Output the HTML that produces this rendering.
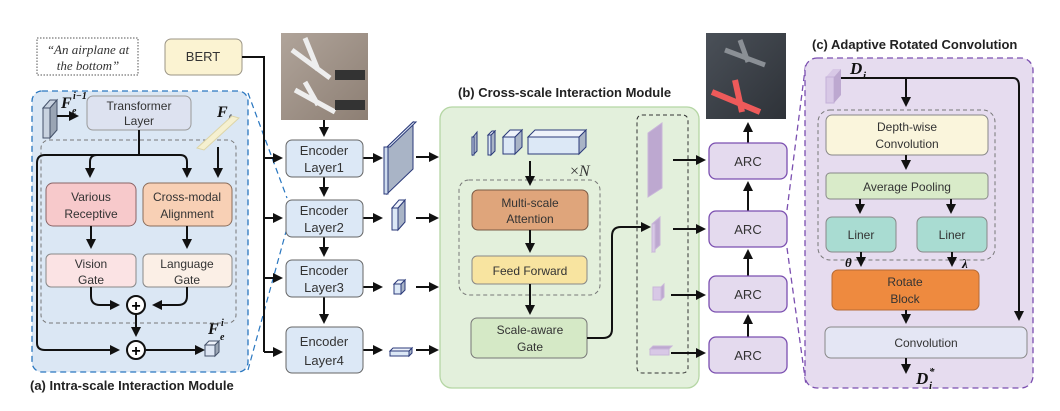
<!DOCTYPE html>
<html><head><meta charset="utf-8"><style>
html,body{margin:0;padding:0;background:#fff;}
svg{display:block;font-family:"Liberation Sans",sans-serif;}
.t{font-size:12px;fill:#333;text-anchor:middle;}
.e{font-size:13px;fill:#333;text-anchor:middle;}
.b{font-weight:bold;font-size:13px;fill:#222;}
.m{font-family:"Liberation Serif",serif;font-weight:bold;font-style:italic;fill:#111;}
</style></head><body>
<svg width="1060" height="411" viewBox="0 0 1060 411" xmlns="http://www.w3.org/2000/svg">
<defs>
<marker id="a" markerWidth="10" markerHeight="10" refX="7" refY="5" orient="auto" markerUnits="userSpaceOnUse" viewBox="0 0 10 10"><path d="M0,0 L10,5 L0,10 z" fill="#111"/></marker>
<linearGradient id="pl" x1="0" y1="0" x2="1" y2="1"><stop offset="0" stop-color="#b0a49a"/><stop offset="1" stop-color="#8d7f74"/></linearGradient>
<linearGradient id="dk" x1="0" y1="0" x2="1" y2="1"><stop offset="0" stop-color="#4a5058"/><stop offset="1" stop-color="#2e3238"/></linearGradient>
</defs>

<!-- quote & BERT -->
<rect x="37" y="38" width="101" height="37" fill="#fff" stroke="#555" stroke-dasharray="1.5,1.5"/>
<text x="88" y="54" font-family="Liberation Serif" font-style="italic" font-size="13" text-anchor="middle" fill="#333">“An airplane at</text>
<text x="88" y="70" font-family="Liberation Serif" font-style="italic" font-size="13" text-anchor="middle" fill="#333">the bottom”</text>
<rect x="165" y="39" width="77" height="36" rx="6" fill="#fbf3d2" stroke="#9b9586"/>
<text x="203" y="61" class="e">BERT</text>

<!-- panel a -->
<rect x="32" y="91" width="216" height="281" rx="10" fill="#dbe7f4" stroke="#2a77c0" stroke-dasharray="6,4" stroke-width="1.3"/>
<rect x="41" y="140" width="195" height="183" rx="8" fill="none" stroke="#777" stroke-dasharray="4,3"/>
<polygon points="43,108 50,100 57,100 50,108" fill="#c9d3e0" stroke="#45526a"/>
<rect x="43" y="108" width="7" height="30" fill="#c9d3e0" stroke="#45526a"/>
<polygon points="50,108 57,100 57,130 50,138" fill="#9aa5b4" stroke="#45526a"/>
<text x="61" y="108" class="m" font-size="16">F</text><text x="72" y="114" class="m" font-size="10">e</text><text x="73" y="99" class="m" font-size="10">i−1</text>
<rect x="87" y="96" width="104" height="34" rx="6" fill="#dde2f0" stroke="#999"/>
<text x="139" y="110" class="t">Transformer</text><text x="139" y="125" class="t">Layer</text>
<text x="217" y="117" class="m" font-size="16">F</text><text x="228" y="121" class="m" font-size="10">ℓ</text>
<polygon points="197,148 232,116 239,118 204,150" fill="#f5f0d0" stroke="#ddd5a8"/>
<rect x="46" y="183" width="90" height="43" rx="7" fill="#f7c9cb" stroke="#8a6466"/>
<text x="91" y="201" class="t">Various</text><text x="91" y="218" class="t">Receptive</text>
<rect x="143" y="183" width="89" height="43" rx="7" fill="#f8d0b5" stroke="#8a6d5a"/>
<text x="187" y="201" class="t">Cross-modal</text><text x="187" y="218" class="t">Alignment</text>
<rect x="46" y="254" width="90" height="33" rx="5" fill="#fbe3e4" stroke="#888"/>
<text x="91" y="268" class="t">Vision</text><text x="91" y="284" class="t">Gate</text>
<rect x="143" y="254" width="89" height="33" rx="5" fill="#fbefe6" stroke="#888"/>
<text x="187" y="268" class="t">Language</text><text x="187" y="284" class="t">Gate</text>
<g stroke="#111" stroke-width="2" fill="none">
<path d="M139,130 V155" />
<path d="M97,155 H180 Q187,155 187,162 V175" marker-end="url(#a)"/>
<path d="M97,155 Q90,155 90,162 V175" marker-end="url(#a)"/>
<path d="M218,147 V175" marker-end="url(#a)"/>
<path d="M91,226 V246" marker-end="url(#a)"/>
<path d="M187,226 V246" marker-end="url(#a)"/>
<path d="M91,287 V296 Q91,305 100,305 H117" marker-end="url(#a)"/>
<path d="M187,287 V296 Q187,305 178,305 H155" marker-end="url(#a)"/>
<path d="M136,314 V334" marker-end="url(#a)"/>
<path d="M139,155 H45 Q37,155 37,163 V343 Q37,350 45,350 H117" marker-end="url(#a)"/>
<path d="M146,350 H202" marker-end="url(#a)"/>
<path d="M57,116 H76" marker-end="url(#a)"/>
</g>
<circle cx="136" cy="305" r="9" fill="#fff" stroke="#111" stroke-width="2"/><text x="136" y="311" text-anchor="middle" font-size="16" font-weight="bold">+</text>
<circle cx="136" cy="350" r="9" fill="#fff" stroke="#111" stroke-width="2"/><text x="136" y="356" text-anchor="middle" font-size="16" font-weight="bold">+</text>
<rect x="205" y="345" width="10" height="11" fill="#dde6f4" stroke="#45526a"/>
<polygon points="205,345 209,341 219,341 215,345" fill="#eef2fa" stroke="#45526a"/>
<polygon points="215,345 219,341 219,352 215,356" fill="#9aa5b4" stroke="#45526a"/>
<text x="208" y="334" class="m" font-size="16">F</text><text x="220" y="340" class="m" font-size="10">e</text><text x="221" y="326" class="m" font-size="10">i</text>
<text x="30" y="390" class="b">(a) Intra-scale Interaction Module</text>
<g stroke="#2a77c0" stroke-width="1.2" stroke-dasharray="6,4"><line x1="248" y1="93" x2="287" y2="198"/><line x1="248" y1="370" x2="287" y2="228"/></g>

<!-- input image -->
<rect x="281" y="33" width="87" height="87" fill="url(#pl)"/>
<path d="M292,50 L330,78 M305,38 L318,70 M295,90 L335,112 M305,82 L318,105" stroke="#eee" stroke-width="5"/>
<rect x="335" y="70" width="30" height="10" fill="#333"/><rect x="335" y="100" width="30" height="10" fill="#333"/>

<!-- BERT line & encoders -->
<g stroke="#111" stroke-width="2" fill="none">
<path d="M242,57 H264 V352"/>
<path d="M264,158 H280" marker-end="url(#a)"/>
<path d="M264,218 H280" marker-end="url(#a)"/>
<path d="M264,278 H280" marker-end="url(#a)"/>
<path d="M264,352 H280" marker-end="url(#a)"/>
<path d="M324,120 V134" marker-end="url(#a)"/>
<path d="M324,177 V194" marker-end="url(#a)"/>
<path d="M324,237 V254" marker-end="url(#a)"/>
<path d="M324,297 V321" marker-end="url(#a)"/>
<path d="M363,158 H380" marker-end="url(#a)"/>
<path d="M363,218 H380" marker-end="url(#a)"/>
<path d="M363,287 H380" marker-end="url(#a)"/>
<path d="M363,350 H380" marker-end="url(#a)"/>
<path d="M416,157 H436" marker-end="url(#a)"/>
<path d="M416,218 H436" marker-end="url(#a)"/>
<path d="M416,287 H436" marker-end="url(#a)"/>
<path d="M416,350 H436" marker-end="url(#a)"/>
</g>
<g fill="#dce8f6" stroke="#666">
<rect x="286" y="140" width="77" height="37" rx="6"/><rect x="286" y="200" width="77" height="37" rx="6"/>
<rect x="286" y="260" width="77" height="37" rx="6"/><rect x="286" y="327" width="77" height="46" rx="6"/>
</g>
<text x="324" y="155" class="e">Encoder</text><text x="324" y="172" class="e">Layer1</text>
<text x="324" y="215" class="e">Encoder</text><text x="324" y="232" class="e">Layer2</text>
<text x="324" y="275" class="e">Encoder</text><text x="324" y="292" class="e">Layer3</text>
<text x="324" y="346" class="e">Encoder</text><text x="324" y="365" class="e">Layer4</text>
<!-- feature maps -->
<g stroke="#2b3a7a" stroke-width="1">
<polygon points="387,147 413,122 413,169 387,194" fill="#a9b4c6"/><polygon points="387,147 413,122 416,122 390,147" fill="#dde6f4"/><rect x="384" y="147" width="4" height="47" fill="#cfdcee"/>
<rect x="392" y="208" width="6" height="22" fill="#dce8f6"/><polygon points="398,208 405,200 405,222 398,230" fill="#a9b4c6"/><polygon points="392,208 399,200 405,200 398,208" fill="#eef2fa"/>
<rect x="394" y="284" width="7" height="10" fill="#dce8f6"/><polygon points="401,284 405,280 405,290 401,294" fill="#a9b4c6"/><polygon points="394,284 398,280 405,280 401,284" fill="#eef2fa"/>
<rect x="390" y="351" width="19" height="5" fill="#dce8f6"/><polygon points="409,351 412,348 412,353 409,356" fill="#a9b4c6"/><polygon points="390,351 393,348 412,348 409,351" fill="#eef2fa"/>
</g>

<!-- panel b -->
<text x="458" y="97" class="b">(b) Cross-scale Interaction Module</text>
<rect x="440" y="107" width="259" height="281" rx="12" fill="#e3f0dc" stroke="#b5d6a4" stroke-width="1.3"/>
<g stroke="#2b3a7a" stroke-width="1">
<polygon points="473,137 477,132 477,151 473,155" fill="#a9b4c6"/><rect x="472" y="137" width="2" height="18" fill="#dce8f6"/>
<rect x="488" y="135" width="3" height="20" fill="#dce8f6"/><polygon points="491,135 495,131 495,151 491,155" fill="#a9b4c6"/><polygon points="488,135 492,131 495,131 491,135" fill="#eef2fa"/>
<rect x="503" y="137" width="12" height="17" fill="#dce8f6"/><polygon points="515,137 522,130 522,147 515,154" fill="#a9b4c6"/><polygon points="503,137 510,130 522,130 515,137" fill="#eef2fa"/>
<rect x="528" y="137" width="51" height="17" fill="#dce8f6"/><polygon points="579,137 586,130 586,147 579,154" fill="#a9b4c6"/><polygon points="528,137 535,130 586,130 579,137" fill="#eef2fa"/>
</g>
<text x="570" y="176" font-family="Liberation Serif" font-size="16" fill="#333">×<tspan font-style="italic">N</tspan></text>
<rect x="459" y="180" width="141" height="115" rx="10" fill="none" stroke="#777" stroke-dasharray="4,3"/>
<rect x="472" y="190" width="116" height="40" rx="6" fill="#dfa57b" stroke="#7a5a45"/>
<text x="530" y="207" class="t">Multi-scale</text><text x="530" y="223" class="t">Attention</text>
<rect x="472" y="256" width="115" height="28" rx="5" fill="#f8e4a0" stroke="#888"/>
<text x="530" y="275" class="t">Feed Forward</text>
<rect x="471" y="318" width="116" height="40" rx="6" fill="#d5e9c6" stroke="#777"/>
<text x="530" y="334" class="t">Scale-aware</text><text x="530" y="351" class="t">Gate</text>
<g stroke="#111" stroke-width="2" fill="none">
<path d="M530,161 V183" marker-end="url(#a)"/>
<path d="M530,230 V250" marker-end="url(#a)"/>
<path d="M530,284 V312" marker-end="url(#a)"/>
<path d="M587,338 H603 Q612,338 612,329 V236 Q612,227 621,227 H648" marker-end="url(#a)"/>
</g>
<rect x="637" y="115" width="51" height="258" rx="5" fill="none" stroke="#333" stroke-dasharray="4,3"/>
<g stroke="#c9b6d9">
<polygon points="648,133 662,123 662,188 648,197" fill="#bda8d0"/>
<polygon points="652,224 660,217 660,245 652,252" fill="#bda8d0"/><rect x="652" y="224" width="3" height="28" fill="#d8c8e6"/>
<rect x="653" y="287" width="8" height="13" fill="#d8c8e6"/><polygon points="661,287 664,284 664,297 661,300" fill="#bda8d0"/>
<rect x="650" y="349" width="19" height="6" fill="#d8c8e6"/><polygon points="650,349 653,346 672,346 669,349" fill="#bda8d0"/>
</g>
<g stroke="#111" stroke-width="2" fill="none">
<path d="M673,160 H703" marker-end="url(#a)"/>
<path d="M673,229 H703" marker-end="url(#a)"/>
<path d="M671,295 H703" marker-end="url(#a)"/>
<path d="M671,353 H703" marker-end="url(#a)"/>
<path d="M748,337 V317" marker-end="url(#a)"/>
<path d="M748,276 V252" marker-end="url(#a)"/>
<path d="M748,211 V184" marker-end="url(#a)"/>
<path d="M748,143 V125" marker-end="url(#a)"/>
</g>
<g fill="#e4daee" stroke="#7b4fb0" stroke-width="1.3">
<rect x="709" y="143" width="78" height="36" rx="7"/><rect x="709" y="211" width="78" height="36" rx="7"/>
<rect x="709" y="276" width="78" height="36" rx="7"/><rect x="709" y="337" width="78" height="36" rx="7"/>
</g>
<text x="748" y="166" class="e">ARC</text><text x="748" y="234" class="e">ARC</text><text x="748" y="299" class="e">ARC</text><text x="748" y="360" class="e">ARC</text>
<!-- output image -->
<rect x="706" y="33" width="80" height="86" fill="url(#dk)"/>
<path d="M725,50 L765,65 M740,40 L748,62" stroke="#8a8f95" stroke-width="5"/>
<path d="M712,92 L760,112 M735,80 L742,112" stroke="#ee5a5a" stroke-width="6"/>

<!-- panel c -->
<text x="812" y="49" class="b">(c) Adaptive Rotated Convolution</text>
<g stroke="#7b4fb0" stroke-width="1.3" stroke-dasharray="6,4"><line x1="787" y1="210" x2="806" y2="62"/><line x1="787" y1="248" x2="806" y2="385"/></g>
<rect x="805" y="58" width="228" height="330" rx="12" fill="#e6dcef" stroke="#7b4fb0" stroke-dasharray="6,4" stroke-width="1.3"/>
<rect x="818" y="110" width="177" height="150" rx="12" fill="none" stroke="#777" stroke-dasharray="4,3"/>
<polygon points="826,77 833,69 841,69 834,77" fill="#d8c8e6"/><rect x="826" y="77" width="8" height="26" fill="#d8c8e6" stroke="#c4b0d8"/><polygon points="834,77 841,69 841,95 834,103" fill="#bda8d0"/>
<text x="850" y="74" class="m" font-size="17">D</text><text x="863" y="79" class="m" font-size="11">i</text>
<rect x="826" y="115" width="162" height="40" rx="6" fill="#faf5dc" stroke="#888"/>
<text x="907" y="131" class="t">Depth-wise</text><text x="907" y="148" class="t">Convolution</text>
<rect x="826" y="173" width="162" height="26" rx="4" fill="#d9ebc9" stroke="#888"/>
<text x="907" y="191" class="t">Average Pooling</text>
<rect x="826" y="217" width="70" height="35" rx="6" fill="#a9dcd2" stroke="#888"/><text x="861" y="239" class="t">Liner</text>
<rect x="917" y="217" width="70" height="35" rx="6" fill="#a9dcd2" stroke="#888"/><text x="952" y="239" class="t">Liner</text>
<rect x="832" y="270" width="147" height="40" rx="6" fill="#ee8a3f" stroke="#b56a35"/>
<text x="905" y="286" class="t">Rotate</text><text x="905" y="303" class="t">Block</text>
<rect x="825" y="327" width="202" height="31" rx="6" fill="#e4e6f4" stroke="#888"/>
<text x="926" y="347" class="t">Convolution</text>
<text x="845" y="267" class="m" font-size="13">θ</text><text x="962" y="268" class="m" font-size="13">λ</text>
<g stroke="#111" stroke-width="2" fill="none">
<path d="M841,78 H1013 Q1019,78 1019,86 V318" marker-end="url(#a)"/>
<path d="M906,78 V104" marker-end="url(#a)"/>
<path d="M906,155 V167" marker-end="url(#a)"/>
<path d="M860,199 V211" marker-end="url(#a)"/>
<path d="M951,199 V211" marker-end="url(#a)"/>
<path d="M861,252 V264" marker-end="url(#a)"/>
<path d="M952,252 V264" marker-end="url(#a)"/>
<path d="M906,310 V321" marker-end="url(#a)"/>
<path d="M906,358 V371" marker-end="url(#a)"/>
</g>
<text x="916" y="384" class="m" font-size="17">D</text><text x="929" y="389" class="m" font-size="11">i</text><text x="929" y="375" class="m" font-size="11">*</text>
</svg>
</body></html>
